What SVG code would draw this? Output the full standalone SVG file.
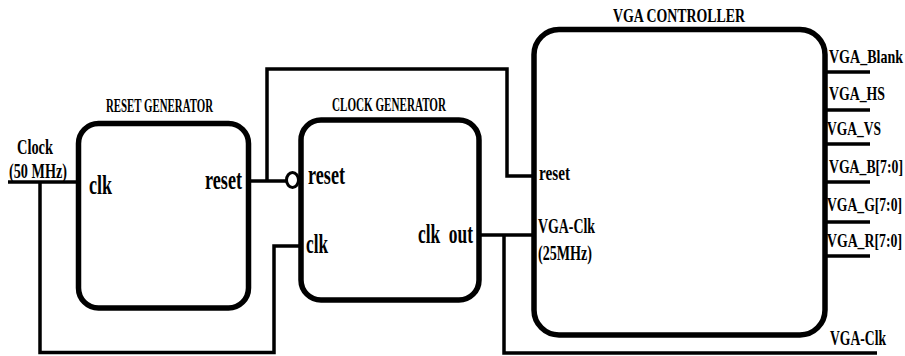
<svg xmlns="http://www.w3.org/2000/svg" width="905" height="356" viewBox="0 0 905 356">
<style>
.box{fill:#fff;stroke:#000;stroke-width:5.5}
.w{fill:none;stroke:#000;stroke-width:3.5}
text{font-family:"Liberation Serif","Times New Roman",serif;font-weight:bold;fill:#000}
.t{font-size:19px}
.p{font-size:27px}
.s{font-size:20px}
.r{font-size:19px}
</style>
<rect width="905" height="356" fill="#fff"/>
<g id="connectors">
<path class="w" d="M8,182 H79"/>
<path class="w" d="M40,182 V352.5 H274 V246 H301"/>
<path class="w" d="M249,181 H287"/>
<path class="w" d="M267,181 V69 H507 V176 H534"/>
<path class="w" d="M479,235 H534"/>
<path class="w" d="M504,235 V353 H877"/>
<path class="w" d="M825,72 H870 M825,110 H870 M825,144 H870 M825,182 H870 M825,222 H870 M825,256 H870"/>
<ellipse cx="292.5" cy="180" rx="6" ry="7.5" fill="#fff" stroke="#000" stroke-width="3"/>
</g>
<g id="clock-input">
<text class="s" x="17" y="154" textLength="36" lengthAdjust="spacingAndGlyphs">Clock</text>
<text class="s" x="9" y="178" textLength="58" lengthAdjust="spacingAndGlyphs">(50 MHz)</text>
</g>
<g id="reset-generator">
<rect class="box" x="78.5" y="123.5" width="170" height="184.5" rx="20"/>
<text class="t" x="106" y="112" textLength="107" lengthAdjust="spacingAndGlyphs">RESET GENERATOR</text>
<text class="p" x="89" y="194" textLength="23" lengthAdjust="spacingAndGlyphs">clk</text>
<text class="p" x="205" y="189" textLength="37" lengthAdjust="spacingAndGlyphs">reset</text>
</g>
<g id="clock-generator">
<rect class="box" x="301" y="120" width="178" height="180" rx="20"/>
<text class="t" x="332" y="111" textLength="114" lengthAdjust="spacingAndGlyphs">CLOCK GENERATOR</text>
<text class="p" x="308" y="184" textLength="37" lengthAdjust="spacingAndGlyphs">reset</text>
<text class="p" x="306" y="253" textLength="22" lengthAdjust="spacingAndGlyphs">clk</text>
<text class="p" x="418" y="243" textLength="55" lengthAdjust="spacingAndGlyphs" xml:space="preserve" style="white-space:pre">clk  out</text>
</g>
<g id="vga-controller">
<rect class="box" x="534" y="29.5" width="291" height="305.5" rx="25"/>
<text class="t" x="613" y="22" textLength="132" lengthAdjust="spacingAndGlyphs">VGA CONTROLLER</text>
<text class="s" x="539" y="180" textLength="31" lengthAdjust="spacingAndGlyphs">reset</text>
<text class="s" x="538" y="233" textLength="57" lengthAdjust="spacingAndGlyphs">VGA-Clk</text>
<text class="s" x="538" y="260" textLength="54" lengthAdjust="spacingAndGlyphs">(25MHz)</text>
<text class="r" x="829" y="63" textLength="74" lengthAdjust="spacingAndGlyphs">VGA_Blank</text>
<text class="r" x="829" y="100" textLength="56" lengthAdjust="spacingAndGlyphs">VGA_HS</text>
<text class="r" x="827" y="135" textLength="54" lengthAdjust="spacingAndGlyphs">VGA_VS</text>
<text class="r" x="829" y="173" textLength="74" lengthAdjust="spacingAndGlyphs">VGA_B[7:0]</text>
<text class="r" x="827" y="211" textLength="75" lengthAdjust="spacingAndGlyphs">VGA_G[7:0]</text>
<text class="r" x="827" y="247" textLength="75" lengthAdjust="spacingAndGlyphs">VGA_R[7:0]</text>
<text class="s" x="830" y="345" textLength="56" lengthAdjust="spacingAndGlyphs">VGA-Clk</text>
</g>
</svg>
